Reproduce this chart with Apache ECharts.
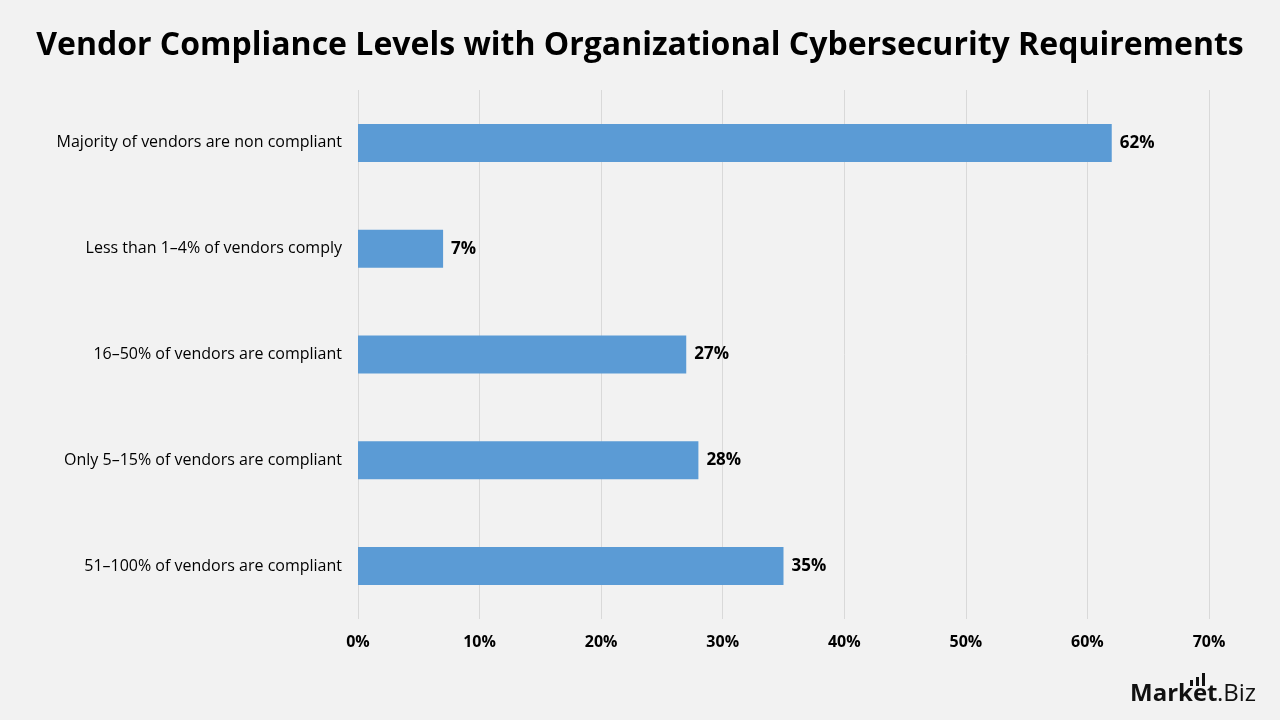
<!DOCTYPE html>
<html>
<head>
<meta charset="utf-8">
<script src="https://cdn.jsdelivr.net/npm/echarts@6/dist/echarts.min.js"></script>
<style>
  html, body { margin: 0; padding: 0; background: #f2f2f2; }
  #main { width: 1280px; height: 720px; }
</style>
</head>
<body>
<div id="main"></div>
<script>
// categories listed bottom to top, as the category axis draws them
var categories = [
    '51–100% of vendors are compliant',
    'Only 5–15% of vendors are compliant',
    '16–50% of vendors are compliant',
    'Less than 1–4% of vendors comply',
    'Majority of vendors are non compliant'
];
var shares = [35, 28, 27, 7, 62];
var xTicks = [0, 10, 20, 30, 40, 50, 60, 70];

var chart = echarts.init(document.getElementById('main'));
var option = {
    backgroundColor: '#f2f2f2',
    animation: false,
    title: {
        text: 'Vendor Compliance Levels with Organizational Cybersecurity Requirements',
        left: 'center',
        top: 25,
        textStyle: {
            fontFamily: 'Open Sans',
            fontWeight: 'bold',
            fontSize: 32,
            color: '#000'
        }
    },
    grid: {
        left: 358,
        right: 71,
        top: 90,
        bottom: 101
    },
    xAxis: {
        type: 'value',
        min: xTicks[0],
        max: xTicks[xTicks.length - 1],
        interval: 10,
        axisLine: { show: false },
        axisTick: { show: false },
        splitLine: { lineStyle: { color: '#d9d9d9', width: 1 } },
        axisLabel: {
            formatter: '{value}%',
            fontFamily: 'Open Sans',
            fontWeight: 'bold',
            fontSize: 16,
            color: '#000',
            margin: 15
        }
    },
    yAxis: {
        type: 'category',
        data: categories,
        axisLine: { show: false },
        axisTick: { show: false },
        axisLabel: {
            fontFamily: 'Open Sans',
            fontSize: 16,
            color: '#000',
            margin: 16
        }
    },
    series: [{
        type: 'bar',
        data: shares,
        barWidth: 38,
        itemStyle: { color: '#5b9bd5' },
        label: {
            show: true,
            position: 'right',
            distance: 8,
            formatter: '{c}%',
            fontFamily: 'Open Sans',
            fontWeight: 'bold',
            fontSize: 17,
            color: '#000'
        }
    }],
    graphic: [
        // logo bars above the "ket"
        { type: 'rect', shape: { x: 1190, y: 680, width: 3, height: 6 }, style: { fill: '#111' } },
        { type: 'rect', shape: { x: 1196, y: 677, width: 3, height: 9 }, style: { fill: '#111' } },
        { type: 'rect', shape: { x: 1202, y: 673, width: 3, height: 13 }, style: { fill: '#111' } },
        {
            type: 'text',
            left: 1130,
            top: 682,
            style: {
                text: 'Market',
                font: 'bold 24px "Open Sans"',
                fill: '#111'
            }
        },
        {
            type: 'text',
            left: 1217,
            top: 682,
            style: {
                text: '.Biz',
                font: '24px "Open Sans"',
                fill: '#111'
            }
        }
    ]
};
chart.setOption(option);
</script>
</body>
</html>
